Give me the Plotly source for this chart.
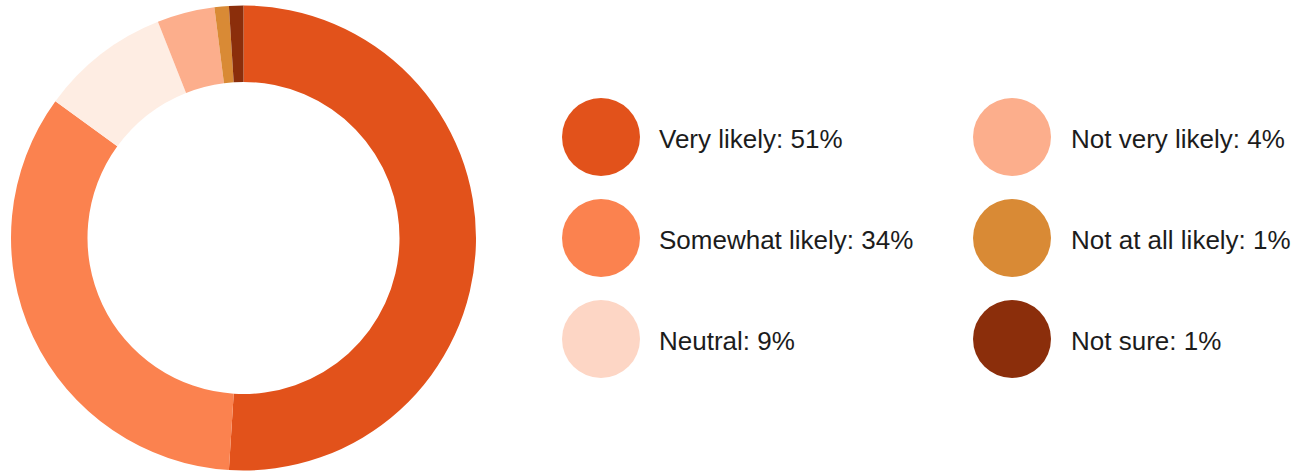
import plotly.graph_objects as go

categories = ["Very likely", "Somewhat likely", "Neutral", "Not very likely", "Not at all likely", "Not sure"]
values = [51, 34, 9, 4, 1, 1]
slice_colors = ["#E2521B", "#FB824F", "#FEEDE3", "#FCAE8C", "#D98A35", "#8B2E0B"]
legend_colors = ["#E2521B", "#FB824F", "#FDD6C5", "#FCAE8C", "#D98A35", "#8B2E0B"]

W, H = 1295, 473

# pie geometry in pixels
cx, cy, r = 243.5, 238.0, 232.5
fig = go.Figure(go.Pie(
    labels=categories,
    values=values,
    marker=dict(colors=slice_colors, line=dict(width=0)),
    hole=0.671,
    sort=False,
    direction="clockwise",
    rotation=0,
    textinfo="none",
    hoverinfo="label+percent",
    showlegend=False,
    domain=dict(x=[(cx - r) / W, (cx + r) / W], y=[(H - cy - r) / H, (H - cy + r) / H]),
))

# custom legend: two columns, three rows
col_circle_x = [601, 1012]
col_text_x = [657, 1069]
row_y = [137, 238, 339]
cr = 39
text_dy = 2

shapes = []
annotations = []
for i, (cat, val) in enumerate(zip(categories, values)):
    col, row = divmod(i, 3)
    x = col_circle_x[col]
    y = row_y[row]
    shapes.append(dict(
        type="circle", xref="paper", yref="paper",
        x0=(x - cr) / W, x1=(x + cr) / W,
        y0=(H - y - cr) / H, y1=(H - y + cr) / H,
        fillcolor=legend_colors[i], line=dict(width=0), layer="above",
    ))
    annotations.append(dict(
        xref="paper", yref="paper",
        x=col_text_x[col] / W, y=(H - y - text_dy) / H,
        xanchor="left", yanchor="middle",
        text=f"{cat}: {val}%", showarrow=False,
        font=dict(family="Liberation Sans, Arial, sans-serif", size=26, color="#1c1c1c"),
    ))

fig.update_layout(
    width=W, height=H,
    margin=dict(l=0, r=0, t=0, b=0),
    paper_bgcolor="white", plot_bgcolor="white",
    shapes=shapes, annotations=annotations,
)

fig.write_html("out.html")
